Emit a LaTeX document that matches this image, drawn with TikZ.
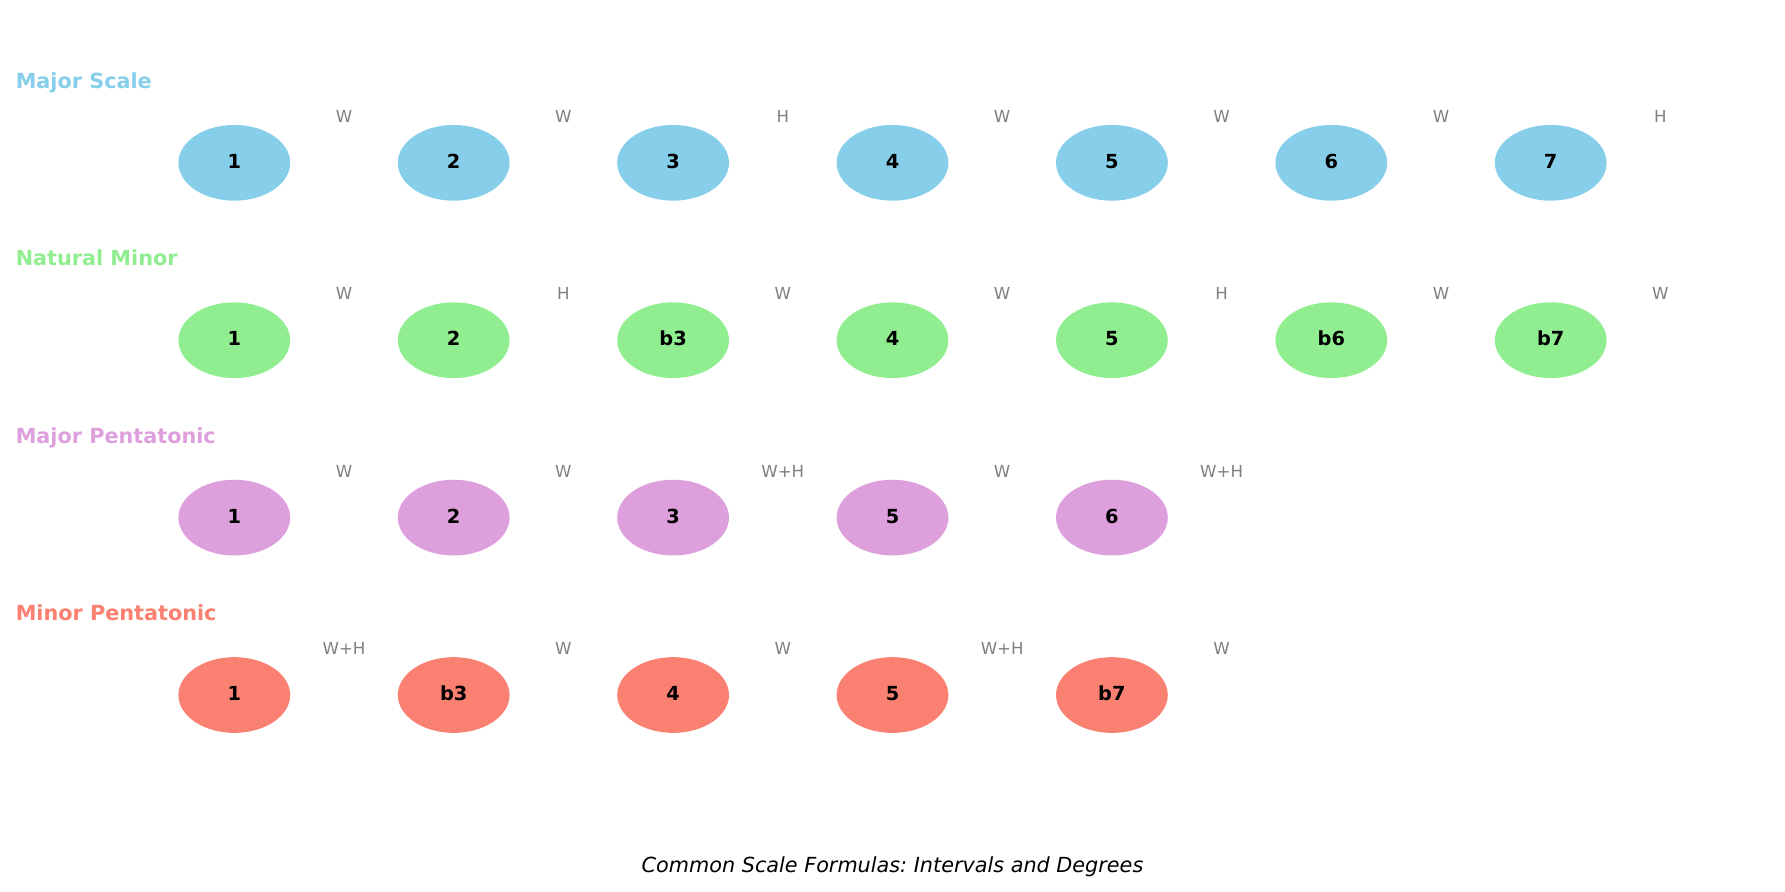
\documentclass[tikz,border=0pt]{standalone}
\usepackage{fontspec}
\setmainfont{DejaVu Sans}
\usetikzlibrary{shapes.geometric}
\definecolor{skyblue}{HTML}{87CEEB}
\definecolor{lightgreen}{HTML}{90EE90}
\definecolor{plum}{HTML}{DDA0DD}
\definecolor{salmon}{HTML}{FA8072}
\frenchspacing

\begin{document}
\begin{tikzpicture}[x=0.01in,y=-0.01in,
    degree/.style={ellipse,minimum width=1.117in,minimum height=0.757in,inner sep=0pt,
      text height=0.11in,text depth=0pt,font=\fontsize{14}{14}\selectfont\bfseries},
    interval/.style={anchor=base,text=gray,font=\fontsize{12}{12}\selectfont},
    scalename/.style={anchor=base west,inner sep=0pt,font=\fontsize{15}{15}\selectfont\bfseries}]
    \useasboundingbox (0,0) rectangle (1785,891);
    % Major Scale
    \node[scalename,text=skyblue] (majortitle) at (15.5,88.5) {Major Scale};
    \foreach \d [count=\i] in {1,2,3,4,5,6,7}
        \node[degree,fill=skyblue] (major\i) at ({234.3+219.4*(\i-1)},162.8) {\d};
    \foreach \s [count=\i] in {W,W,H,W,W,W,H}
        \node[interval] (majorstep\i) at ({344+219.4*(\i-1)},122.3) {\s};
    % Natural Minor
    \node[scalename,text=lightgreen] (minortitle) at (15.5,265.9) {Natural Minor};
    \foreach \d [count=\i] in {1,2,b3,4,5,b6,b7}
        \node[degree,fill=lightgreen] (minor\i) at ({234.3+219.4*(\i-1)},340.2) {\d};
    \foreach \s [count=\i] in {W,H,W,W,H,W,W}
        \node[interval] (minorstep\i) at ({344+219.4*(\i-1)},299.7) {\s};
    % Major Pentatonic
    \node[scalename,text=plum] (majpenttitle) at (15.5,443.3) {Major Pentatonic};
    \foreach \d [count=\i] in {1,2,3,5,6}
        \node[degree,fill=plum] (majpent\i) at ({234.3+219.4*(\i-1)},517.6) {\d};
    \foreach \s [count=\i] in {W,W,W+H,W,W+H}
        \node[interval] (majpentstep\i) at ({344+219.4*(\i-1)},477.1) {\s};
    % Minor Pentatonic
    \node[scalename,text=salmon] (minpenttitle) at (15.5,620.7) {Minor Pentatonic};
    \foreach \d [count=\i] in {1,b3,4,5,b7}
        \node[degree,fill=salmon] (minpent\i) at ({234.3+219.4*(\i-1)},695) {\d};
    \foreach \s [count=\i] in {W+H,W,W,W+H,W}
        \node[interval] (minpentstep\i) at ({344+219.4*(\i-1)},654.5) {\s};
    % caption
    \node[anchor=base,font=\fontsize{15}{15}\selectfont\itshape] (caption) at (892.5,872) {Common Scale Formulas: Intervals and Degrees};
\end{tikzpicture}
\end{document}
